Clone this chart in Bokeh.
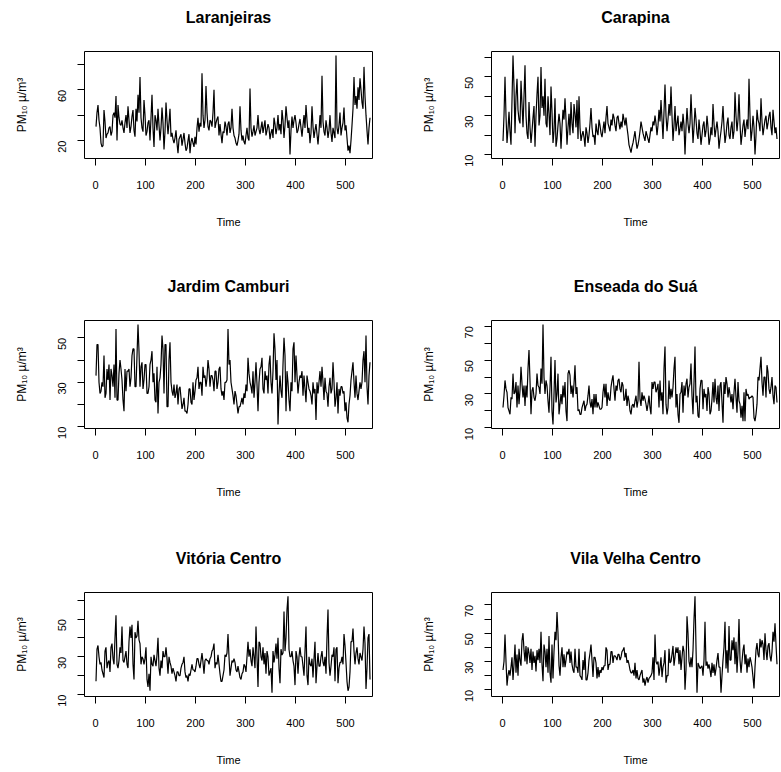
import math
from bokeh.plotting import figure
from bokeh.layouts import column, row
from bokeh.models import Range1d, FixedTicker, Title
from bokeh.embed import file_html
from bokeh.resources import INLINE

# ---------------- data (one value every 2 days) ----------------
# *_a : days 1, 5, 9, ... 549      *_b : days 3, 7, 11, ... 547
time_index = list(range(1, 550, 2))

stations = ["Laranjeiras", "Carapina", "Jardim Camburi", "Enseada do Suá",
            "Vitória Centro", "Vila Velha Centro"]

laranjeiras_a = [31, 48, 30, 15, 44, 22, 26, 31, 27, 42, 55, 48, 33, 36, 26, 40, 47, 26, 39, 28,
                 45, 56, 70, 30, 52, 24, 34, 20, 56, 15, 36, 45, 20, 46, 13, 50, 25, 45, 26, 18,
                 28, 10, 23, 16, 26, 12, 20, 10, 22, 15, 17, 38, 34, 73, 30, 63, 31, 36, 31, 60,
                 34, 39, 33, 18, 26, 31, 33, 26,
                 45, 24, 18, 20, 47, 20, 19, 24, 22, 61, 23, 32, 27, 40, 25, 35, 31, 24, 33, 21,
                 29, 38, 25, 40, 33, 44, 22, 47, 30, 9, 39, 36, 34, 28, 37, 23, 40, 48, 26, 18,
                 47, 22, 33, 17, 40, 71, 27, 36, 22, 40, 19, 26, 87, 25, 42, 30, 46, 32, 12, 10,
                 32, 70, 55, 62, 69, 50, 78, 40, 17, 38]
laranjeiras_b = [42, 36, 18, 16, 35, 25, 30, 24, 40, 38, 20, 38, 32, 30, 34, 30, 36, 31, 44, 23,
                 35, 42, 38, 27, 40, 27, 36, 38, 30, 40, 28, 32, 30, 34, 27, 36, 34, 23, 21, 22,
                 18, 21, 25, 21, 18, 14, 25, 19, 18, 23, 30, 27, 31, 40, 36, 42, 28, 35, 42, 30,
                 37, 24, 25, 27, 35, 24, 35, 30,
                 30, 22, 16, 25, 28, 24, 17, 30, 20, 30, 27, 24, 30, 29, 30, 26, 36, 28, 30, 26,
                 22, 33, 30, 28, 25, 36, 32, 38, 36, 28, 30, 40, 26, 33, 30, 32, 30, 36, 30, 26,
                 31, 28, 25, 27, 30, 35, 24, 30, 28, 26, 30, 22, 30, 32, 24, 34, 28, 22, 16, 20,
                 45, 48, 45, 52, 60, 45, 55, 28, 30]

carapina_a = [17, 50, 16, 32, 15, 61, 21, 49, 28, 48, 24, 56, 21, 37, 16, 29, 14, 41, 25, 55,
              40, 49, 24, 31, 45, 16, 39, 18, 31, 13, 33, 39, 15, 31, 37, 21, 31, 38, 40, 17,
              22, 14, 21, 20, 34, 19, 15, 22, 28, 21, 23, 21, 35, 24, 28, 31, 25, 29, 26,
              27, 31, 25, 24, 15, 11, 16, 22, 13, 18, 27, 21, 17, 20, 16, 24, 27, 30, 20, 33,
              38, 18, 46, 22, 36, 45, 17, 35, 26, 20, 27, 31, 10, 34, 21, 41, 16, 34, 21, 28,
              15, 25, 19, 30, 15, 24, 36, 19, 27, 13, 22, 35, 16, 26, 20, 24, 18, 42, 22, 41,
              15, 25, 19, 28, 49, 17, 30, 10, 33, 26, 39, 20, 28, 23, 30, 24, 33, 21, 18]
carapina_b = [30, 30, 23, 22, 38, 45, 40, 33, 26, 36, 40, 30, 18, 24, 22, 35, 30, 50, 30, 34,
              30, 26, 40, 20, 32, 22, 14, 25, 26, 24, 28, 28, 24, 20, 26, 36, 24, 18, 24, 20,
              19, 24, 16, 26, 24, 20, 26, 20, 25, 19, 27, 29, 26, 22, 25, 29, 22, 30, 23,
              24, 28, 29, 20, 13, 14, 19, 17, 15, 22, 24, 19, 22, 18, 20, 22, 25, 26, 25, 27,
              28, 32, 30, 28, 30, 30, 25, 22, 30, 23, 22, 25, 24, 26, 26, 28, 24, 28, 18, 22,
              20, 27, 22, 24, 18, 20, 26, 23, 22, 18, 27, 24, 20, 29, 18, 27, 22, 30, 28, 26,
              20, 28, 24, 23, 30, 22, 24, 20, 28, 22, 27, 24, 30, 26, 32, 20, 27, 24]

jardim_camburi_a = [33, 47, 25, 30, 42, 25, 31, 22, 33, 38, 54, 22, 40, 31, 17, 26, 35, 28, 42, 45,
                    28, 56, 28, 39, 31, 38, 25, 38, 44, 34, 21, 16, 32, 51, 25, 47, 19, 48, 26, 29,
                    25, 20, 28, 18, 23, 17, 20, 27, 20, 22, 31, 37, 30, 24, 32, 28, 40, 28, 33, 26,
                    35, 30, 37, 24, 22, 30, 54, 40,
                    27, 20, 24, 16, 19, 23, 25, 29, 41, 30, 25, 23, 39, 17, 36, 41, 25, 31, 25, 42,
                    25, 52, 31, 11, 33, 23, 50, 17, 30, 17, 26, 48, 42, 25, 33, 35, 33, 21, 30, 26,
                    20, 25, 13, 25, 35, 37, 22, 26, 19, 32, 27, 30, 23, 16, 24, 28, 26, 21, 12, 24,
                    35, 30, 33, 22, 30, 30, 44, 51, 20, 39]
jardim_camburi_b = [47, 30, 26, 28, 23, 36, 38, 36, 28, 23, 22, 34, 36, 22, 36, 35, 36, 32, 45, 28,
                    42, 44, 37, 27, 38, 25, 28, 40, 30, 22, 37, 30, 38, 45, 47, 19, 40, 30, 24, 23,
                    29, 27, 23, 20, 17, 16, 27, 21, 30, 26, 32, 27, 30, 37, 33, 32, 36, 33, 31, 35,
                    27, 36, 27, 26, 30, 31, 38, 30,
                    24, 26, 20, 19, 21, 20, 23, 26, 34, 28, 35, 30, 29, 30, 37, 27, 35, 33, 38, 30,
                    35, 45, 40, 25, 26, 38, 42, 35, 22, 30, 45, 30, 33, 30, 32, 24, 27, 33, 27, 24,
                    30, 27, 30, 30, 28, 30, 32, 25, 28, 25, 39, 19, 30, 27, 28, 25, 17, 14, 20, 31,
                    39, 23, 25, 26, 27, 40, 30, 28, 33]

enseada_do_sua_a = [22, 38, 31, 20, 28, 42, 31, 22, 24, 46, 28, 23, 28, 56, 18, 34, 26, 42, 34, 45,
                    71, 30, 35, 19, 52, 12, 50, 30, 18, 30, 35, 37, 14, 44, 30, 28, 47, 34, 21, 18,
                    24, 20, 24, 35, 22, 18, 22, 22, 23, 21, 31, 28, 23, 27, 34, 41, 26, 32, 39,
                    31, 35, 27, 23, 26, 18, 24, 26, 22, 49, 23, 26, 27, 20, 29, 18, 33, 37, 33, 22,
                    26, 18, 58, 18, 38, 33, 34, 52, 30, 13, 31, 19, 29, 39, 34, 48, 18, 58, 29, 16,
                    38, 21, 28, 20, 30, 20, 37, 39, 24, 20, 37, 13, 30, 36, 34, 25, 21, 39, 19, 26,
                    16, 14, 14, 29, 27, 28, 28, 14, 24, 38, 52, 29, 40, 47, 33, 34, 29, 35, 25]
enseada_do_sua_b = [29, 33, 22, 18, 27, 30, 37, 35, 32, 36, 35, 35, 45, 38, 32, 28, 30, 35, 30, 36,
                    40, 38, 26, 34, 20, 30, 25, 42, 24, 24, 28, 20, 42, 41, 35, 36, 30, 20, 18, 22,
                    26, 23, 29, 25, 27, 30, 30, 25, 21, 22, 36, 36, 31, 26, 38, 33, 35, 38, 33,
                    37, 26, 33, 29, 20, 23, 22, 29, 26, 27, 31, 29, 24, 24, 22, 37, 37, 31, 36, 38,
                    31, 45, 24, 22, 27, 28, 45, 22, 18, 30, 37, 35, 36, 28, 36, 29, 37, 25, 17, 33,
                    38, 33, 30, 34, 18, 27, 25, 28, 35, 35, 25, 37, 40, 28, 30, 30, 31, 28, 37, 24,
                    23, 31, 33, 30, 28, 29, 16, 18, 40, 45, 37, 40, 28, 43, 30, 40, 24, 34]

vitoria_centro_a = [17, 36, 26, 23, 19, 35, 27, 22, 37, 26, 52, 24, 35, 46, 27, 33, 24, 46, 47, 18,
                    40, 49, 37, 30, 26, 35, 14, 12, 26, 31, 25, 40, 20, 24, 30, 35, 21, 27, 21, 22,
                    17, 22, 20, 26, 30, 19, 17, 20, 26, 23, 25, 29, 24, 32, 21, 29, 28, 29, 33, 37,
                    27, 31, 21, 17, 23, 30, 42, 20,
                    28, 29, 23, 25, 19, 21, 26, 22, 38, 34, 25, 30, 46, 14, 37, 28, 26, 21, 30, 22,
                    11, 27, 37, 40, 16, 31, 54, 40, 62, 30, 33, 25, 33, 21, 35, 30, 20, 46, 15, 26,
                    29, 29, 16, 32, 25, 33, 25, 21, 55, 20, 31, 35, 34, 16, 27, 30, 42, 27, 12, 22,
                    38, 33, 32, 29, 32, 28, 46, 13, 40, 18]
vitoria_centro_b = [34, 30, 27, 21, 33, 24, 28, 35, 29, 40, 26, 28, 32, 28, 30, 26, 38, 40, 26, 43,
                    41, 39, 26, 29, 29, 18, 21, 30, 25, 28, 31, 24, 28, 33, 30, 29, 30, 25, 24, 20,
                    22, 20, 24, 27, 22, 20, 21, 23, 23, 22, 29, 26, 28, 27, 28, 28, 26, 30, 34, 24,
                    26, 26, 17, 20, 31, 32, 30, 24,
                    27, 27, 22, 22, 18, 22, 25, 30, 30, 28, 35, 24, 30, 38, 30, 35, 32, 33, 20, 24,
                    33, 31, 29, 24, 34, 32, 33, 55, 34, 30, 28, 15, 30, 30, 30, 25, 33, 20, 30, 25,
                    19, 38, 25, 25, 30, 27, 30, 40, 27, 25, 30, 17, 35, 24, 27, 26, 36, 17, 14, 38,
                    45, 26, 35, 26, 30, 34, 37, 24, 42]

vila_velha_centro_a = [24, 49, 13, 24, 26, 17, 42, 35, 39, 27, 50, 30, 28, 36, 39, 37, 34, 38, 39, 51,
                       16, 37, 39, 48, 15, 18, 51, 65, 27, 33, 26, 26, 37, 39, 37, 24, 39, 26, 39, 19,
                       31, 37, 17, 31, 42, 19, 33, 18, 19, 22, 24, 27, 38, 28, 37, 29, 34, 31, 35,
                       33, 38, 33, 29, 28, 22, 24, 29, 24, 17, 22, 15, 13, 19, 18, 20, 33, 49, 28, 20,
                       33, 26, 38, 20, 39, 30, 41, 33, 36, 28, 24, 41, 10, 62, 30, 33, 38, 76, 8, 27,
                       26, 20, 58, 30, 28, 19, 22, 20, 31, 26, 8, 31, 58, 38, 55, 31, 38, 28, 22, 60,
                       22, 38, 28, 22, 26, 30, 19, 26, 43, 33, 40, 42, 50, 31, 43, 30, 51, 57, 28]
vila_velha_centro_b = [30, 30, 20, 20, 33, 28, 22, 20, 31, 45, 38, 41, 40, 29, 24, 29, 23, 31, 29, 28,
                       42, 26, 22, 22, 42, 37, 45, 50, 20, 40, 35, 31, 35, 29, 28, 22, 26, 22, 20, 17,
                       24, 17, 22, 36, 31, 33, 29, 26, 24, 26, 27, 40, 24, 28, 37, 34, 33, 35, 31,
                       37, 40, 36, 31, 24, 22, 20, 18, 18, 20, 24, 18, 17, 15, 19, 22, 17, 30, 30, 26,
                       19, 29, 15, 20, 29, 35, 27, 40, 40, 38, 33, 37, 24, 50, 26, 26, 60, 40, 29, 25,
                       27, 31, 27, 25, 24, 29, 28, 25, 36, 26, 20, 40, 25, 22, 31, 45, 47, 44, 37, 31,
                       30, 42, 35, 32, 33, 26, 11, 38, 35, 46, 45, 31, 38, 41, 34, 37, 44, 42]

series_a = [laranjeiras_a, carapina_a, jardim_camburi_a, enseada_do_sua_a,
            vitoria_centro_a, vila_velha_centro_a]
series_b = [laranjeiras_b, carapina_b, jardim_camburi_b, enseada_do_sua_b,
            vitoria_centro_b, vila_velha_centro_b]

x_ticks = [0, 100, 200, 300, 400, 500]
y_labelled = [[20, 60], [10, 30, 50], [10, 30, 50], [10, 30, 50, 70], [10, 30, 50], [10, 30, 50, 70]]
y_unlabelled = [[40, 80], [20, 40, 60], [20, 40], [20, 40, 60], [20, 40, 60], [20, 40, 60]]

x_label = "Time"
y_label = "PM₁₀ µ/m³"


def interleave(a, b):
    if len(a) != len(b) + 1:
        raise ValueError("length mismatch %d %d" % (len(a), len(b)))
    out = []
    for k, v in enumerate(a):
        out.append(v)
        if k < len(b):
            out.append(b[k])
    return out


series = [interleave(a, b) for a, b in zip(series_a, series_b)]

# ---------------- layout ----------------
FONT = "Liberation Sans"
row_geom = [  # (height, border_top, border_bottom)
    (233, 51, 75),
    (270, 87, 75),
    (265, 89, 70),
]
col_geom = [  # (width, border_left, border_right)
    (407, 84, 35),
    (373, 84, 1),
]


def make_panel(i):
    r, c = divmod(i, 2)
    h, bt, bb = row_geom[r]
    w, bl, br = col_geom[c]
    vals = series[i]
    lo, hi = min(vals), max(vals)
    pad = 0.04 * (hi - lo)
    p = figure(width=w, height=h, output_backend="svg", toolbar_location=None,
               x_range=Range1d(-22, 554), y_range=Range1d(lo - pad, hi + pad),
               min_border_left=bl, min_border_right=br,
               min_border_top=bt, min_border_bottom=bb,
               background_fill_color="white", border_fill_color="white")

    # blank spacer between frame and title (keeps the title higher above the box)
    p.add_layout(Title(text=" ", text_font_size="12px", standoff=10), "above")
    p.title.text = stations[i]
    p.title.align = "center"
    p.title.vertical_align = "bottom"
    p.title.standoff = 0
    p.title.text_font = FONT
    p.title.text_font_size = "16px"
    p.title.text_font_style = "bold"
    p.title.text_color = "black"

    p.line(time_index, vals, line_color="black", line_width=1.2)

    p.grid.visible = False
    p.outline_line_color = "black"
    p.outline_line_width = 1
    p.outline_line_alpha = 1.0

    xa = p.xaxis[0]
    xa.ticker = FixedTicker(ticks=x_ticks)
    xa.axis_line_color = None
    xa.major_tick_out = 7
    xa.major_tick_in = 0
    xa.major_tick_line_color = "black"
    xa.minor_tick_line_color = None
    xa.major_label_text_font = FONT
    xa.major_label_text_font_size = "11px"
    xa.major_label_text_color = "black"
    xa.major_label_standoff = 15
    xa.axis_label = x_label
    xa.axis_label_text_font = FONT
    xa.axis_label_text_font_size = "11px"
    xa.axis_label_text_font_style = "normal"
    xa.axis_label_text_color = "black"
    xa.axis_label_standoff = 24

    ya = p.yaxis[0]
    ya.ticker = FixedTicker(ticks=y_labelled[i], minor_ticks=y_unlabelled[i])
    ya.axis_line_color = None
    ya.major_tick_out = 7
    ya.major_tick_in = 0
    ya.minor_tick_out = 7
    ya.minor_tick_in = 0
    ya.major_tick_line_color = "black"
    ya.minor_tick_line_color = "black"
    ya.major_label_orientation = math.pi / 2
    ya.major_label_text_font = FONT
    ya.major_label_text_font_size = "11px"
    ya.major_label_text_color = "black"
    ya.major_label_standoff = 15
    ya.axis_label = y_label
    ya.axis_label_text_font = FONT
    ya.axis_label_text_font_size = "12px"
    ya.axis_label_text_font_style = "normal"
    ya.axis_label_text_color = "black"
    ya.axis_label_standoff = 23
    return p


panels = [make_panel(i) for i in range(6)]
layout = column(row(panels[0], panels[1]), row(panels[2], panels[3]), row(panels[4], panels[5]))

open("out.html", "w").write(file_html(layout, INLINE))
